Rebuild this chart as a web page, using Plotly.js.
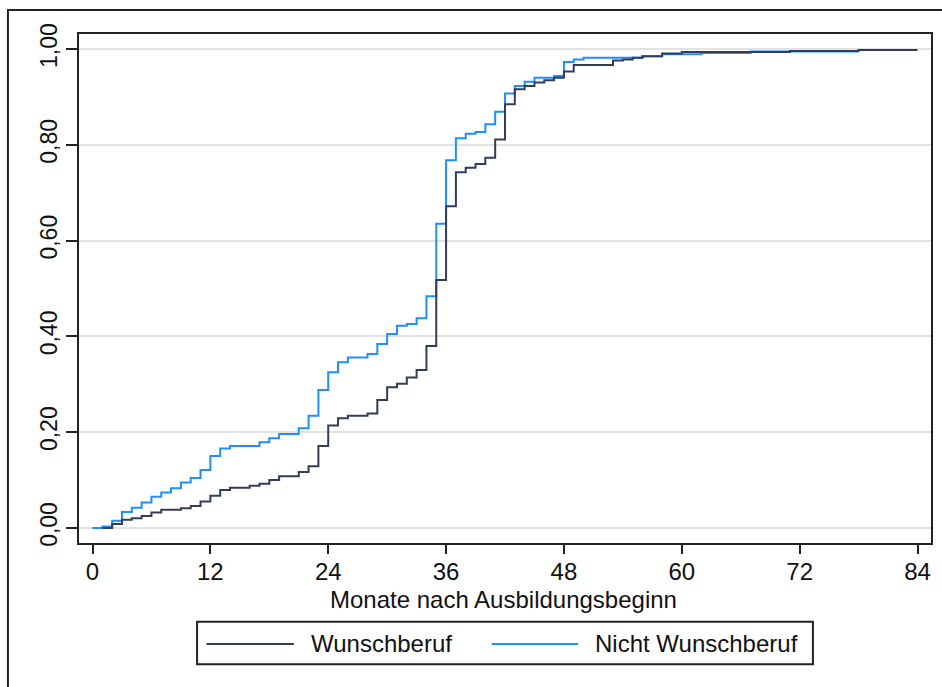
<!DOCTYPE html>
<html>
<head>
<meta charset="utf-8">
<script src="https://cdn.plot.ly/plotly-3.0.1.min.js"></script>
<style>
  html, body { margin: 0; padding: 0; background: #ffffff; }
  #chart { width: 942px; height: 687px; }
</style>
</head>
<body>
<div id="chart"></div>
<script>
// Months after start of training (x) and cumulative share (y)
const seriesNames = ["Wunschberuf", "Nicht Wunschberuf"];

const wunschMonths = [1,2,3,4,5,6,7,9,10,11,12,13,14,16,17,18,19,21,22,23,24,25,26,28,29,30,31,32,33,34,35,36,37,38,39,40,41,42,43,44,45,46,47,48,49,53,54,55,56,58,60,71,78,84];
const wunschValues = [0,0.008,0.017,0.020,0.025,0.032,0.038,0.041,0.046,0.055,0.067,0.079,0.084,0.088,0.092,0.100,0.108,0.117,0.129,0.171,0.214,0.229,0.234,0.239,0.267,0.294,0.301,0.314,0.330,0.380,0.518,0.672,0.743,0.752,0.760,0.773,0.811,0.885,0.916,0.923,0.930,0.935,0.940,0.953,0.967,0.976,0.978,0.982,0.985,0.991,0.994,0.996,0.998,0.998];

const nichtMonths = [0,1,2,3,4,5,6,7,8,9,10,11,12,13,14,17,18,19,21,22,23,24,25,26,28,29,30,31,32,33,34,35,36,37,38,39,40,41,42,43,44,45,47,48,49,50,56,58,62,67,78];
const nichtValues = [0,0.003,0.015,0.033,0.042,0.053,0.065,0.074,0.083,0.095,0.104,0.121,0.150,0.166,0.171,0.179,0.187,0.196,0.208,0.234,0.288,0.325,0.346,0.356,0.363,0.384,0.405,0.422,0.426,0.438,0.484,0.635,0.768,0.814,0.823,0.827,0.843,0.869,0.907,0.923,0.932,0.940,0.944,0.973,0.978,0.982,0.985,0.989,0.992,0.995,0.995];

const xTickVals = [0,12,24,36,48,60,72,84];
const yTickVals = [0,0.2,0.4,0.6,0.8,1.0];
const yTickText = ["0,00","0,20","0,40","0,60","0,80","1,00"];
const xTitle = "Monate nach Ausbildungsbeginn";

const colorW = "#333d5a";
const colorN = "#1e8fff";
const font = "Liberation Sans, Arial, sans-serif";

const traces = [
  { x: nichtMonths, y: nichtValues, name: seriesNames[1], type: "scatter", mode: "lines",
    line: { shape: "hv", color: colorN, width: 2 }, hoverinfo: "x+y+name" },
  { x: wunschMonths, y: wunschValues, name: seriesNames[0], type: "scatter", mode: "lines",
    line: { shape: "hv", color: colorW, width: 2 }, hoverinfo: "x+y+name" }
];

// pixel -> paper helpers for decorations (plot area 79.3..930.7 x 34..543.3)
const L = 79.3, R = 930.7, T = 34, B = 543.3;
const px = v => (v - L) / (R - L);
const py = v => (B - v) / (B - T);

const legY = 644.3;
const shapes = [
  // outer frame
  { type: "rect", xref: "paper", yref: "paper", x0: px(8.3), x1: px(960), y0: py(720), y1: py(10),
    line: { color: "#222", width: 2 }, fillcolor: "rgba(0,0,0,0)", layer: "below" },
  // legend box
  { type: "rect", xref: "paper", yref: "paper", x0: px(197.3), x1: px(812.7), y0: py(664.7), y1: py(622),
    line: { color: "#222", width: 2 }, fillcolor: "rgba(0,0,0,0)" },
  { type: "line", xref: "paper", yref: "paper", x0: px(206.7), x1: px(294), y0: py(legY), y1: py(legY),
    line: { color: colorW, width: 2 } },
  { type: "line", xref: "paper", yref: "paper", x0: px(491.7), x1: px(578), y0: py(legY), y1: py(legY),
    line: { color: colorN, width: 2 } }
];

const annotations = [
  // x-axis title
  { xref: "paper", yref: "paper", x: px(504), y: py(600), xanchor: "center", yanchor: "middle",
    text: xTitle, showarrow: false, borderpad: 0, font: { family: font, size: 24, color: "#111" } },
  // legend labels
  { xref: "paper", yref: "paper", x: px(309), y: py(legY), xanchor: "left", yanchor: "middle",
    text: seriesNames[0], showarrow: false, font: { family: font, size: 24, color: "#111" } },
  { xref: "paper", yref: "paper", x: px(593), y: py(legY), xanchor: "left", yanchor: "middle",
    text: seriesNames[1], showarrow: false, font: { family: font, size: 24, color: "#111" } }
];

const layout = {
  width: 942, height: 687,
  margin: { l: L, r: 942 - R, t: T, b: 687 - B, pad: 0 },
  paper_bgcolor: "#ffffff", plot_bgcolor: "#ffffff",
  showlegend: false,
  font: { family: font, size: 24, color: "#111" },
  xaxis: {
    range: [-1.375, 85.375], tickvals: xTickVals, ticktext: xTickVals.map(String),
    ticks: "outside", ticklen: 9, tickwidth: 2, tickcolor: "#222",
    ticklabelstandoff: -3,
    showline: true, linecolor: "#222", linewidth: 2, mirror: true,
    showgrid: false, zeroline: false,
    tickfont: { family: font, size: 24, color: "#111" },
    automargin: false
  },
  yaxis: {
    range: [-0.0315, 1.0315], tickvals: yTickVals, ticktext: yTickText,
    ticks: "outside", ticklen: 11, tickwidth: 2, tickcolor: "#222", tickangle: -90,
    showline: true, linecolor: "#222", linewidth: 2, mirror: true,
    showgrid: true, gridcolor: "#e2e2e2", gridwidth: 2, zeroline: false,
    tickfont: { family: font, size: 23, color: "#111" },
    automargin: false
  },
  shapes: shapes,
  annotations: annotations
};

Plotly.newPlot("chart", traces, layout, { displayModeBar: false, staticPlot: true });
</script>
</body>
</html>
